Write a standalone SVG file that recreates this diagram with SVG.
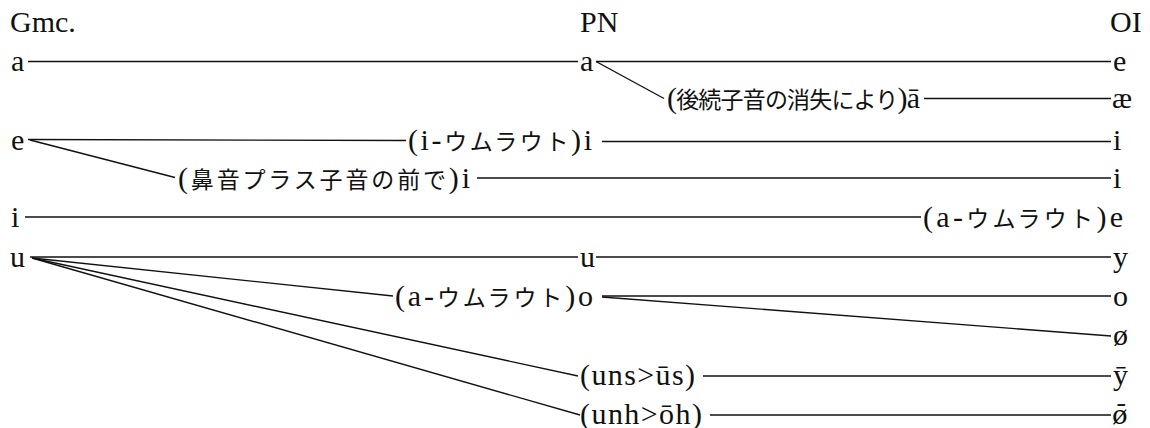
<svg xmlns="http://www.w3.org/2000/svg" width="1150" height="428" viewBox="0 0 1150 428">
<style>
text{font-family:'Liberation Serif',serif;font-size:30px;fill:#111}
tspan.j{font-family:'Noto Sans CJK JP',sans-serif;font-size:23px}
text.dv{font-family:'DejaVu Serif',serif;font-size:26px}
line{stroke:#111;stroke-width:1.4;fill:none}
</style>
<rect width="1150" height="428" fill="#fff"/>
<g id="connectors">
<line x1="28" y1="61.5" x2="578" y2="61.5"/>
<line x1="596" y1="61.5" x2="1111" y2="61.5"/>
<line x1="596" y1="61.5" x2="664" y2="98.5"/>
<line x1="924" y1="98.5" x2="1111" y2="98.5"/>
<line x1="28" y1="139.5" x2="406" y2="140.5"/>
<line x1="602" y1="141.5" x2="1111" y2="141.5"/>
<line x1="30" y1="140" x2="175" y2="177.5"/>
<line x1="477" y1="178" x2="1111" y2="178"/>
<line x1="25" y1="217" x2="921" y2="217"/>
<line x1="30" y1="257" x2="578" y2="257"/>
<line x1="596" y1="257" x2="1111" y2="257"/>
<line x1="32" y1="258" x2="393" y2="296"/>
<line x1="602" y1="296" x2="1111" y2="296"/>
<line x1="602" y1="297" x2="1111" y2="336"/>
<line x1="32" y1="258" x2="578" y2="376"/>
<line x1="703" y1="376" x2="1111" y2="376"/>
<line x1="32" y1="258" x2="580" y2="415"/>
<line x1="710" y1="415" x2="1111" y2="415"/>
</g>
<g id="headers">
<text id="h-gmc" x="10" y="32">Gmc.</text>
<text id="h-pn" x="580" y="32">PN</text>
<text id="h-oi" x="1110" y="32">OI</text>
</g>
<g id="gmc-a"><text x="11" y="71">a</text></g>
<g id="gmc-e"><text x="11" y="150">e</text></g>
<g id="gmc-i"><text x="11" y="227">i</text></g>
<g id="gmc-u"><text x="10" y="267">u</text></g>
<g id="pn-a"><text x="580" y="71">a</text></g>
<g id="pn-u"><text x="580" y="267">u</text></g>
<g id="pn-abar"><text x="667" y="108" textLength="253" lengthAdjust="spacing">(<tspan class="j">後続子音の消失により</tspan>)ā</text></g>
<g id="pn-i1"><text x="408" y="150" textLength="184" lengthAdjust="spacing">(i-<tspan class="j">ウムラウト</tspan>)i</text></g>
<g id="pn-i2"><text x="178" y="188" textLength="292" lengthAdjust="spacing">(<tspan class="j">鼻音プラス子音の前で</tspan>)i</text></g>
<g id="oi-e2"><text x="923" y="227" textLength="200" lengthAdjust="spacing">(a-<tspan class="j">ウムラウト</tspan>)e</text></g>
<g id="pn-o"><text x="395" y="306" textLength="198" lengthAdjust="spacing">(a-<tspan class="j">ウムラウト</tspan>)o</text></g>
<g id="pn-us"><text x="580" y="385" textLength="115" lengthAdjust="spacing">(uns&gt;ūs)</text></g>
<g id="pn-oh"><text x="580" y="424" textLength="122" lengthAdjust="spacing">(unh&gt;ōh)</text></g>
<g id="oi-e"><text x="1113" y="71">e</text></g>
<g id="oi-ae"><text x="1112" y="108">æ</text></g>
<g id="oi-i1"><text x="1113" y="150">i</text></g>
<g id="oi-i2"><text x="1113" y="188">i</text></g>
<g id="oi-y"><text x="1113" y="267">y</text></g>
<g id="oi-o"><text x="1113" y="306">o</text></g>
<g id="oi-oe"><text x="1113" y="345">ø</text></g>
<g id="oi-ybar"><text x="1113" y="385">ȳ</text></g>
<g id="oi-oebar"><text class="dv" x="1112" y="424">ø̄</text></g>
</svg>
